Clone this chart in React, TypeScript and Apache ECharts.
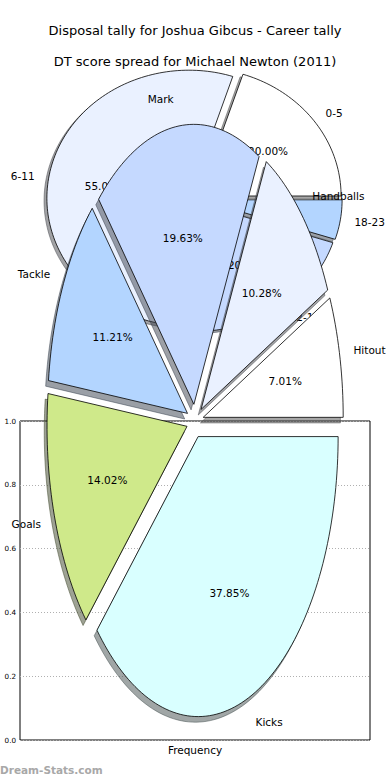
import React, { useEffect, useRef } from 'react';
import * as echarts from 'echarts';

const titleMain = 'Disposal tally for Joshua Gibcus - Career tally';
const titleSub = 'DT score spread for Michael Newton (2011)';
const watermark = 'Dream-Stats.com';
const xAxisName = 'Frequency';

// DT score spread (games per score band)
const dtCategories = ['0-5', '6-11', '12-17', '18-23'];
const dtValues = [4, 11, 4, 1];

// Disposal tally (counts)
const disposalCategories = ['Hitout', 'Handballs', 'Mark', 'Tackle', 'Goals', 'Kicks'];
const disposalValues = [15, 22, 42, 24, 30, 81];

const sliceColors = ['#ffffff', '#eaf1ff', '#c5d9ff', '#b3d5ff', '#cfe98a', '#d9ffff'];
const yTicks = [0, 0.2, 0.4, 0.6, 0.8, 1.0];

const FONT = 'DejaVu Sans';

function shadowColor(hex: string) {
  const r = parseInt(hex.slice(1, 3), 16) * 0.3;
  const g = parseInt(hex.slice(3, 5), 16) * 0.3;
  const b = parseInt(hex.slice(5, 7), 16) * 0.3;
  return `rgba(${Math.round(r)},${Math.round(g)},${Math.round(b)},0.5)`;
}

function makeRender(values: number[], labels: string[], explode: number, layer: string) {
  const total = values.reduce((a, b) => a + b, 0);
  const starts: number[] = [];
  let acc = 0;
  values.forEach((v) => {
    starts.push((acc / total) * 360);
    acc += v;
  });
  return (params: any, api: any) => {
    const i = params.dataIndex;
    const a0 = starts[i];
    const a1 = a0 + (values[i] / total) * 360;
    const mid = (((a0 + a1) / 2) * Math.PI) / 180;
    const ox = explode * Math.cos(mid);
    const oy = explode * Math.sin(mid);
    if (layer === 'text') {
      const lx = ox + 1.1 * Math.cos(mid);
      const lp = api.coord([lx, oy + 1.1 * Math.sin(mid)]);
      const pp = api.coord([ox + 0.6 * Math.cos(mid), oy + 0.6 * Math.sin(mid)]);
      const al = lx > 0 ? 'left' : 'right';
      return {
        type: 'group',
        children: [
          {
            type: 'text',
            x: lp[0],
            y: lp[1],
            style: {
              text: labels[i],
              fill: '#000',
              fontFamily: FONT,
              fontSize: 10.5,
              align: al,
              textAlign: al,
              verticalAlign: 'middle',
              textVerticalAlign: 'middle',
            },
          },
          {
            type: 'text',
            x: pp[0],
            y: pp[1],
            style: {
              text: ((values[i] / total) * 100).toFixed(2) + '%',
              fill: '#000',
              fontFamily: FONT,
              fontSize: 10.5,
              align: 'center',
              textAlign: 'center',
              verticalAlign: 'middle',
              textVerticalAlign: 'middle',
            },
          },
        ],
      };
    }
    const isShadow = layer === 'shadow';
    const sx = isShadow ? -0.02 : 0;
    const sy = isShadow ? -0.02 : 0;
    const n = Math.max(2, Math.ceil((a1 - a0) / 1.5));
    const pts: number[][] = [];
    pts.push(api.coord([ox + sx, oy + sy]));
    for (let k = 0; k <= n; k++) {
      const t = ((a0 + ((a1 - a0) * k) / n) * Math.PI) / 180;
      pts.push(api.coord([ox + sx + Math.cos(t), oy + sy + Math.sin(t)]));
    }
    const col = sliceColors[i % sliceColors.length];
    return {
      type: 'polygon',
      shape: { points: pts },
      style: isShadow
        ? { fill: shadowColor(col), stroke: shadowColor(col), lineWidth: 1 }
        : { fill: col, stroke: '#000', lineWidth: 0.8 },
    };
  };
}

function pieSeries(values: number[], labels: string[], explode: number, axisIndex: number, zBase: number) {
  const data = values.map((v) => [0, 0, v]);
  return ['shadow', 'wedge', 'text'].map((layer, k) => ({
    type: 'custom',
    coordinateSystem: 'cartesian2d',
    xAxisIndex: axisIndex,
    yAxisIndex: axisIndex,
    z: zBase + k,
    silent: true,
    clip: false,
    renderItem: makeRender(values, labels, explode, layer),
    data,
  }));
}

const hiddenAxis = (gridIndex: number) => ({
  type: 'value',
  gridIndex,
  min: -1,
  max: 1,
  show: false,
});

export default function App() {
  const ref = useRef<HTMLDivElement>(null);
  useEffect(() => {
    document.body.style.margin = '0';
    const chart = echarts.init(ref.current!, null, { renderer: 'svg' });
    chart.setOption({
      animation: false,
      backgroundColor: '#ffffff',
      grid: [
        { left: 20, top: 421, width: 350, height: 319, show: true, borderColor: '#000', borderWidth: 1, backgroundColor: 'transparent' },
        { left: 52.5, top: 71, width: 284, height: 256, show: false },
        { left: 55, top: 141, width: 280, height: 560, show: false },
      ],
      xAxis: [
        {
          type: 'value',
          gridIndex: 0,
          min: 0,
          max: 1,
          axisLine: { show: false },
          axisTick: { show: false },
          axisLabel: { show: false },
          splitLine: { show: false },
          name: xAxisName,
          nameLocation: 'middle',
          nameGap: 4,
          nameTextStyle: { fontFamily: FONT, fontSize: 10.5, color: '#000', verticalAlign: 'top' },
        },
        hiddenAxis(1),
        hiddenAxis(2),
      ],
      yAxis: [
        {
          type: 'value',
          gridIndex: 0,
          min: yTicks[0],
          max: yTicks[yTicks.length - 1],
          interval: 0.2,
          axisLine: { show: false },
          axisTick: { show: false },
          axisLabel: {
            fontFamily: FONT,
            fontSize: 7.2,
            color: '#000',
            margin: 4,
            formatter: (v: number) => v.toFixed(1),
          },
          splitLine: { show: true, lineStyle: { type: [1, 2], color: '#b0b0b0', width: 1 } },
        },
        hiddenAxis(1),
        hiddenAxis(2),
      ],
      graphic: [
        {
          type: 'text',
          x: 195,
          y: 30,
          style: { text: titleMain, fill: '#000', fontFamily: FONT, fontSize: 13, align: 'center', textAlign: 'center', verticalAlign: 'middle', textVerticalAlign: 'middle' },
        },
        {
          type: 'text',
          x: 195,
          y: 61,
          style: { text: titleSub, fill: '#000', fontFamily: FONT, fontSize: 13, align: 'center', textAlign: 'center', verticalAlign: 'middle', textVerticalAlign: 'middle' },
        },
        {
          type: 'text',
          x: 0,
          y: 770,
          z: 100,
          style: { text: watermark, fill: '#a8a8a8', fontFamily: FONT, fontWeight: 'bold', fontSize: 10.5, align: 'left', textAlign: 'left', verticalAlign: 'middle', textVerticalAlign: 'middle' },
        },
      ],
      series: [
        ...pieSeries(dtValues, dtCategories, 0.04, 1, 2),
        ...pieSeries(disposalValues, disposalCategories, 0.06, 2, 6),
      ],
    });
    return () => chart.dispose();
  }, []);
  return <div ref={ref} style={{ width: 390, height: 780 }} />;
}
